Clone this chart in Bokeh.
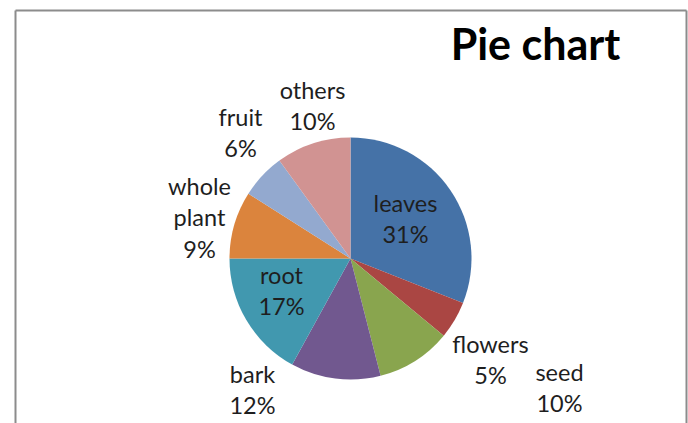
import math
from bokeh.plotting import figure
from bokeh.models import Range1d, ColumnDataSource
from bokeh.core.properties import value
from bokeh.embed import file_html
from bokeh.resources import INLINE

# ---- data ----
parts = ["leaves", "flowers", "seed", "bark", "root", "whole plant", "fruit", "others"]
shares = [31, 5, 10, 12, 17, 9, 6, 10]
colors = ["#4572A7", "#AA4643", "#89A54E", "#71588F", "#4198AF", "#DB843D", "#93A9CF", "#D19392"]
title_text = "Pie chart"

# ---- layout (page pixel coordinates, converted below) ----
W, H = 688, 423
def px(x):
    return x
def py(y):
    return H - y

center = (350, 258)
radius = 121
label_pos = [(405, 218), (490, 359), (559, 387), (252, 389), (281, 290), (199, 217), (240, 132), (312, 105)]

p = figure(width=W, height=H, x_range=Range1d(0, W), y_range=Range1d(0, H),
           output_backend="svg", toolbar_location=None, min_border=0)
p.axis.visible = False
p.grid.visible = False
p.outline_line_color = None
p.background_fill_color = "white"
p.border_fill_color = "white"

total = sum(shares)
starts, ends = [], []
cum = 0
for s in shares:
    starts.append(math.pi / 2 - 2 * math.pi * cum / total)
    cum += s
    ends.append(math.pi / 2 - 2 * math.pi * cum / total)

src = ColumnDataSource(dict(start=starts, end=ends, color=colors, part=parts, share=shares))
p.wedge(x=px(center[0]), y=py(center[1]), radius=radius, start_angle="start", end_angle="end",
        direction="clock", fill_color="color", line_color=None, source=src)

texts = [n.replace(" ", "\n") + "\n" + f"{v}%" for n, v in zip(parts, shares)]
lsrc = ColumnDataSource(dict(x=[px(a) for a, b in label_pos], y=[py(b) for a, b in label_pos], t=texts))
p.text(x="x", y="y", text="t", source=lsrc, text_font=value("Lato"), text_font_size="23.5px",
       text_align="center", text_baseline="middle", text_color="#1e1e1e", text_line_height=1.12)

p.text(x=[px(535)], y=[py(43)], text=[title_text], text_font=value("Lato"), text_font_size="43px",
       text_font_style="bold", text_align="center", text_baseline="middle", text_color="#000000")

# chart frame border
bc = "#8c8c8c"
p.line(x=[px(15), px(15)], y=[py(10), -5], line_color=bc, line_width=2)
p.line(x=[px(15), px(686)], y=[py(10), py(10)], line_color=bc, line_width=2)
p.line(x=[px(686), px(686)], y=[py(10), -5], line_color=bc, line_width=2)

open("out.html", "w").write(file_html(p, INLINE))
